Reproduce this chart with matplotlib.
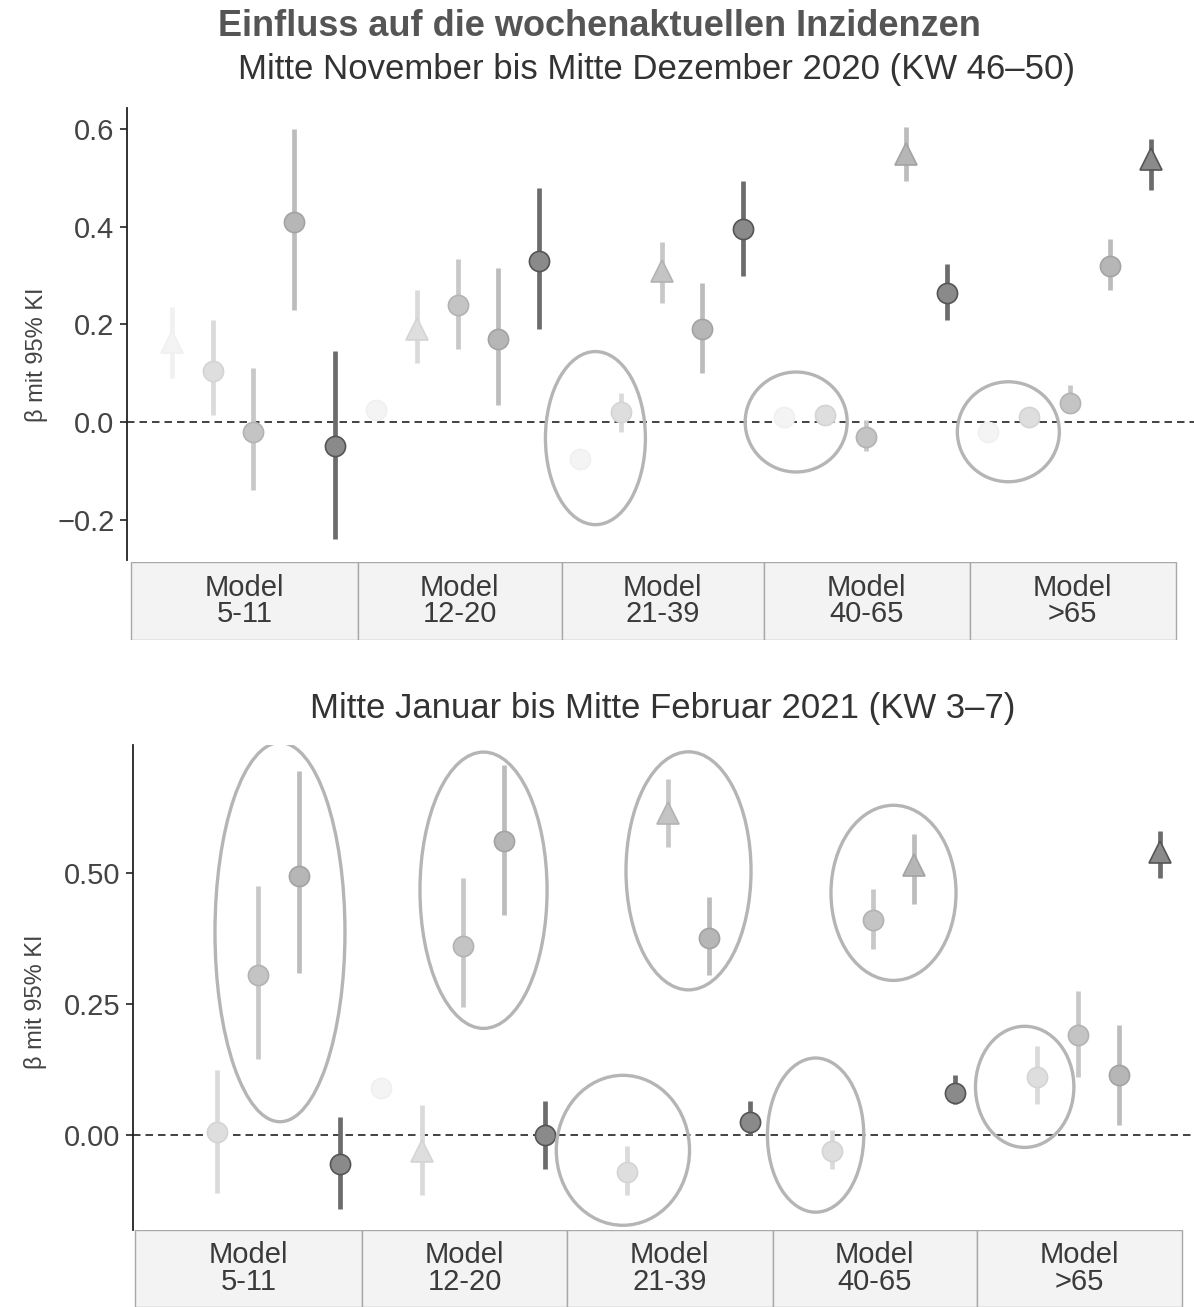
import numpy as np
import matplotlib.pyplot as plt
from matplotlib.patches import Ellipse, Rectangle

plt.rcParams['font.family'] = ['Liberation Sans', 'DejaVu Sans']
plt.rcParams['axes.unicode_minus'] = True

W, H = 1194, 1307

models = ['5-11', '12-20', '21-39', '40-65', '>65']
offsets = [-0.4, -0.2, 0.0, 0.2, 0.4]   # dodge of the five predictors inside a model

# point fill / edge / CI bar colours per predictor (light -> dark)
fills = ['#f4f4f4', '#dedede', '#c4c4c4', '#b6b6b6', '#8a8a8a']
edges = ['#f0f0f0', '#d4d4d4', '#b3b3b3', '#a3a3a3', '#555555']
bars = ['#f1f1f1', '#dadada', '#c8c8c8', '#bcbcbc', '#6c6c6c']

nan = np.nan

# Mitte November bis Mitte Dezember 2020 (KW 46-50): rows = model, cols = predictor
nov_est = [[0.165, 0.105, -0.02, 0.41, -0.05],
           [0.025, 0.19, 0.24, 0.17, 0.33],
           [-0.075, 0.02, 0.31, 0.19, 0.395],
           [0.01, 0.015, -0.03, 0.55, 0.265],
           [-0.02, 0.01, 0.04, 0.32, 0.54]]
nov_lo = [[0.09, 0.015, -0.14, 0.23, -0.24],
          [0.025, 0.12, 0.15, 0.035, 0.19],
          [-0.075, -0.02, 0.245, 0.10, 0.30],
          [0.01, -0.005, -0.06, 0.495, 0.21],
          [-0.02, -0.01, 0.025, 0.27, 0.475]]
nov_hi = [[0.235, 0.21, 0.11, 0.60, 0.145],
          [0.025, 0.27, 0.335, 0.315, 0.48],
          [-0.075, 0.06, 0.37, 0.285, 0.495],
          [0.01, 0.035, 0.005, 0.605, 0.325],
          [-0.02, 0.03, 0.075, 0.375, 0.58]]

# Mitte Januar bis Mitte Februar 2021 (KW 3-7)
jan_est = [[nan, 0.005, 0.305, 0.495, -0.055],
           [0.09, -0.03, 0.36, 0.56, 0.0],
           [nan, -0.07, 0.615, 0.375, 0.025],
           [nan, -0.03, 0.41, 0.515, 0.08],
           [nan, 0.11, 0.19, 0.115, 0.54]]
jan_lo = [[nan, -0.11, 0.145, 0.31, -0.14],
          [0.09, -0.115, 0.245, 0.42, -0.065],
          [nan, -0.115, 0.55, 0.305, 0.0],
          [nan, -0.065, 0.355, 0.44, 0.06],
          [nan, 0.06, 0.11, 0.02, 0.49]]
jan_hi = [[nan, 0.125, 0.475, 0.695, 0.035],
          [0.09, 0.057, 0.49, 0.705, 0.065],
          [nan, -0.02, 0.68, 0.455, 0.065],
          [nan, 0.01, 0.47, 0.575, 0.115],
          [nan, 0.17, 0.275, 0.21, 0.58]]

# hand-drawn highlight rings (x, y, width, height) in data units
nov_rings = [(1.676, -0.033, 0.49, 0.355),
             (2.66, 0.0, 0.50, 0.205),
             (3.70, -0.02, 0.50, 0.205)]
jan_rings = [(0.107, 0.387, 0.634, 0.723),
             (1.10, 0.467, 0.62, 0.527),
             (2.10, 0.504, 0.61, 0.454),
             (3.10, 0.462, 0.61, 0.334),
             (1.78, -0.029, 0.65, 0.286),
             (2.72, 0.0, 0.47, 0.294),
             (3.74, 0.092, 0.48, 0.231)]


def px_axes(fig, left, top, right, bottom):
    return fig.add_axes([left / W, 1 - bottom / H, (right - left) / W, (bottom - top) / H])


def draw_panel(ax, est, lo, hi, rings, xlim, ylim, yticks, fmt, label_xy):
    ax.axhline(0, color='#222222', lw=1.2, ls=(0, (4.5, 3)), zorder=1)
    for i in range(len(models)):
        for j in range(len(offsets)):
            if np.isnan(est[i][j]):
                continue
            x = i + offsets[j]
            ax.plot([x, x], [lo[i][j], hi[i][j]], color=bars[j], lw=3.4,
                    solid_capstyle='butt', zorder=2)
            # the model's own age group is drawn as a triangle
            if i == j:
                ax.plot(x, est[i][j], marker='^', ms=16, mfc=fills[j], mec=edges[j],
                        mew=1.2, zorder=3)
            else:
                ax.plot(x, est[i][j], marker='o', ms=14.5, mfc=fills[j], mec=edges[j],
                        mew=1.2, zorder=3)
    for (x, y, w, h) in rings:
        ax.add_patch(Ellipse((x, y), w, h, fill=False, ec='#b5b5b5', lw=2.4, zorder=4))
    ax.set_xlim(xlim)
    ax.set_ylim(ylim)
    ax.set_xticks([])
    ax.set_yticks(yticks)
    ax.set_yticklabels([fmt.format(v).replace('-', '\u2212') for v in yticks])
    for s in ['top', 'right', 'bottom']:
        ax.spines[s].set_visible(False)
    ax.spines['left'].set_linewidth(1.3)
    ax.spines['left'].set_color('#222222')
    ax.tick_params(axis='y', length=5, width=1.2, colors='#222222',
                   labelsize=21, labelcolor='#444444', pad=4)
    ax.set_ylabel('\u03b2 mit 95% KI', fontsize=17, color='#444444')
    ax.yaxis.set_label_coords(*label_xy)


def draw_strip(sax, xlim, cells):
    sax.set_xlim(xlim)
    sax.set_ylim(0, 1)
    sax.axis('off')
    for k in range(len(models)):
        sax.add_patch(Rectangle((cells[k], 0), cells[k + 1] - cells[k], 1,
                                fc='#f3f3f3', ec='#a8a8a8', lw=1.0))
        sax.text((cells[k] + cells[k + 1]) / 2, 0.5, 'Model\n' + models[k],
                 ha='center', va='center', fontsize=21, color='#3a3a3a', linespacing=0.95)


fig = plt.figure(figsize=(W / 100, H / 100), dpi=100)

fig.text(599 / W, 1 - 26 / H, 'Einfluss auf die wochenaktuellen Inzidenzen',
         ha='center', va='center', fontsize=26, fontweight='bold', color='#555555')
fig.text(656 / W, 1 - 70 / H, 'Mitte November bis Mitte Dezember 2020 (KW 46\u201350)',
         ha='center', va='center', fontsize=25, color='#333333')
fig.text(663 / W, 1 - 708 / H, 'Mitte Januar bis Mitte Februar 2021 (KW 3\u20137)',
         ha='center', va='center', fontsize=25, color='#333333')

# top panel
xlim_top = (-0.62, 4.61)
ax1 = px_axes(fig, 127, 108, 1194, 560)
draw_panel(ax1, nov_est, nov_lo, nov_hi, nov_rings, xlim_top, (-0.283, 0.644),
           [-0.2, 0.0, 0.2, 0.4, 0.6], '{:.1f}', (-0.074, 0.454))
s1 = px_axes(fig, 127, 562, 1194, 640)
draw_strip(s1, xlim_top, [-0.60, 0.51, 1.51, 2.50, 3.51, 4.52])

# bottom panel
xlim_bot = (-0.61, 4.566)
ax2 = px_axes(fig, 133, 745, 1194, 1230)
draw_panel(ax2, jan_est, jan_lo, jan_hi, jan_rings, xlim_bot, (-0.181, 0.744),
           [0.0, 0.25, 0.5], '{:.2f}', (-0.081, 0.47))
s2 = px_axes(fig, 133, 1230, 1194, 1307)
draw_strip(s2, xlim_bot, [-0.60, 0.507, 1.507, 2.51, 3.507, 4.507])

fig.savefig('out.png', dpi=100)
